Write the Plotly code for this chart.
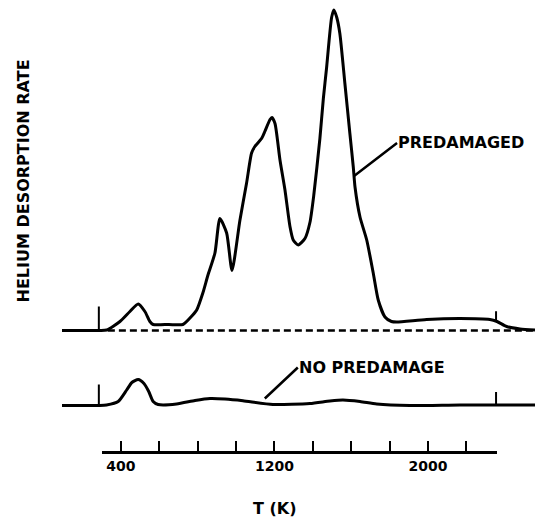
import numpy as np
import plotly.graph_objects as go

# ---- data (T in K, rate in arbitrary units) ----
pre_T = [93, 290, 326, 395, 447, 490, 525, 551, 568, 650, 723, 760, 795, 827, 853, 890,
         916, 951, 979, 1020, 1055, 1081, 1098, 1133, 1150, 1177, 1187, 1203, 1229, 1255,
         1281, 1298, 1324, 1359, 1385, 1405, 1437, 1455, 1472, 1498, 1510, 1525, 1541,
         1567, 1593, 1611, 1620, 1646, 1681, 1715, 1741, 1776, 1810, 1837, 1993, 2167,
         2323, 2360, 2410, 2480, 2558]
pre_rate = [0, 0, 0.5, 9, 19, 26.5, 19, 9, 6, 6, 6, 12.5, 20.5, 37.5, 55, 77.5,
            112, 97.5, 60, 110, 147.5, 177.5, 184, 192, 199, 211, 213, 207, 170.5, 140.5,
            104, 90.5, 85.5, 92, 108, 135, 192, 232, 263, 313, 320.5, 313, 297,
            247.5, 197.5, 163.5, 143.5, 113.5, 90.5, 57.5, 30.5, 13.5, 9, 8.5, 11, 12,
            11, 9, 4, 1.5, 0.5]

nopre_T = [93, 290, 325, 386, 430, 457, 490, 520, 545, 568, 594, 690, 786, 864, 942,
           1036, 1192, 1385, 1489, 1557, 1646, 1733, 1906, 2167, 2558]
nopre_rate = [0, 0, 0.5, 4, 15.5, 23, 26, 22, 14, 4, 1, 1.5, 5, 7, 6.5,
              4.8, 1, 2, 4.5, 5.5, 4, 1.5, 0, 0.5, 0.5]

baseline_T = [332, 2558]
baseline_rate = [0, 0]

mark_T = [285, 2355]          # start / end of heating marks
pre_mark_len = [24, 10]
nopre_mark_len = [21, 13]

tick_T = [400, 600, 800, 1000, 1200, 1400, 1600, 1800, 2000, 2200]
tick_labels = ["400", "", "", "", "1200", "", "", "", "2000", ""]
axis_span = [300, 2360]

# ---- layout constants ----
W, H = 536, 521
x_range = [93, 2558]
dom = [62 / W, 535 / W]
pre_off = H - 330.5
nopre_off = H - 405.5
axis_pos = 1 - 452 / H

def sub_dom(a, b):
    f = lambda v: dom[0] + (v - x_range[0]) / (x_range[1] - x_range[0]) * (dom[1] - dom[0])
    return [f(a), f(b)]

tick_dom = sub_dom(*axis_span)
FONT = "DejaVu Sans"
black = "#000000"

fig = go.Figure()
line_kw = dict(color=black, width=3, shape="spline", smoothing=0.6)

fig.add_trace(go.Scatter(x=baseline_T, y=np.array(baseline_rate) + pre_off, mode="lines",
                         line=dict(color=black, width=2.5, dash="7px,4px"),
                         hoverinfo="skip", showlegend=False))
fig.add_trace(go.Scatter(x=pre_T, y=np.array(pre_rate) + pre_off, mode="lines",
                         line=line_kw, name="PREDAMAGED", showlegend=False))
fig.add_trace(go.Scatter(x=nopre_T, y=np.array(nopre_rate) + nopre_off, mode="lines",
                         line=line_kw, name="NO PREDAMAGE", showlegend=False))

# heating marks
mx, my = [], []
for T, lp, ln in zip(mark_T, pre_mark_len, nopre_mark_len):
    b1 = np.interp(T, pre_T, pre_rate) + pre_off
    b2 = np.interp(T, nopre_T, nopre_rate) + nopre_off
    mx += [T, T, None, T, T, None]
    my += [b1, b1 + lp, None, b2, b2 + ln, None]
fig.add_trace(go.Scatter(x=mx, y=my, mode="lines", line=dict(color=black, width=2),
                         hoverinfo="skip", showlegend=False))

# dummy traces to anchor temperature axes
for ax in ["x2", "x3"]:
    fig.add_trace(go.Scatter(x=axis_span, y=[0, 0], xaxis=ax, yaxis="y", mode="markers",
                             marker=dict(opacity=0), hoverinfo="skip", showlegend=False))

# annotations
tipA = 1615
fig.add_annotation(x=tipA, y=np.interp(tipA, pre_T, pre_rate) + pre_off, xref="x", yref="y",
                   text="PREDAMAGED", showarrow=True, arrowhead=0, arrowwidth=2.5,
                   arrowcolor=black, ax=43, ay=-33, xanchor="left", yanchor="middle",
                   font=dict(family=FONT, size=16, color=black, weight="bold"), borderpad=0)
tipB = 1150
fig.add_annotation(x=tipB, y=np.interp(tipB, nopre_T, nopre_rate) + nopre_off + 5, xref="x", yref="y",
                   text="NO PREDAMAGE", showarrow=True, arrowhead=0, arrowwidth=2.5,
                   arrowcolor=black, ax=33, ay=-31, xanchor="left", yanchor="middle",
                   font=dict(family=FONT, size=16, color=black, weight="bold"), borderpad=0)
fig.add_annotation(x=23 / W, y=1 - 181.5 / H, xref="paper", yref="paper",
                   xanchor="center", yanchor="middle",
                   text="HELIUM DESORPTION RATE", textangle=-90, showarrow=False,
                   font=dict(family=FONT, size=16, color=black, weight="bold"))
fig.add_annotation(x=275 / W, y=1 - 508 / H, xref="paper", yref="paper",
                   xanchor="center", yanchor="middle",
                   text="T (K)", showarrow=False,
                   font=dict(family=FONT, size=16, color=black, weight="bold"))

fig.update_layout(
    width=W, height=H, autosize=False,
    margin=dict(l=0, r=0, t=0, b=0),
    paper_bgcolor="white", plot_bgcolor="rgba(0,0,0,0)",
    xaxis=dict(range=x_range, domain=dom, visible=False),
    yaxis=dict(range=[0, H], domain=[0, 1], visible=False),
    xaxis2=dict(range=axis_span, domain=tick_dom, anchor="free", position=axis_pos,
                showline=True, linecolor=black, linewidth=3, ticks="inside",
                tickvals=axis_span, ticklen=20, tickwidth=2, tickcolor=black,
                showticklabels=False, showgrid=False, zeroline=False),
    xaxis3=dict(range=axis_span, domain=tick_dom, anchor="free", position=axis_pos,
                overlaying="x2", showline=False, ticks="inside", tickvals=tick_T,
                ticktext=tick_labels, ticklen=11, tickwidth=2, tickcolor=black,
                ticklabelstandoff=4,
                tickfont=dict(family=FONT, size=14, color=black, weight="bold"),
                showgrid=False, zeroline=False),
)

fig.write_html("out.html")
